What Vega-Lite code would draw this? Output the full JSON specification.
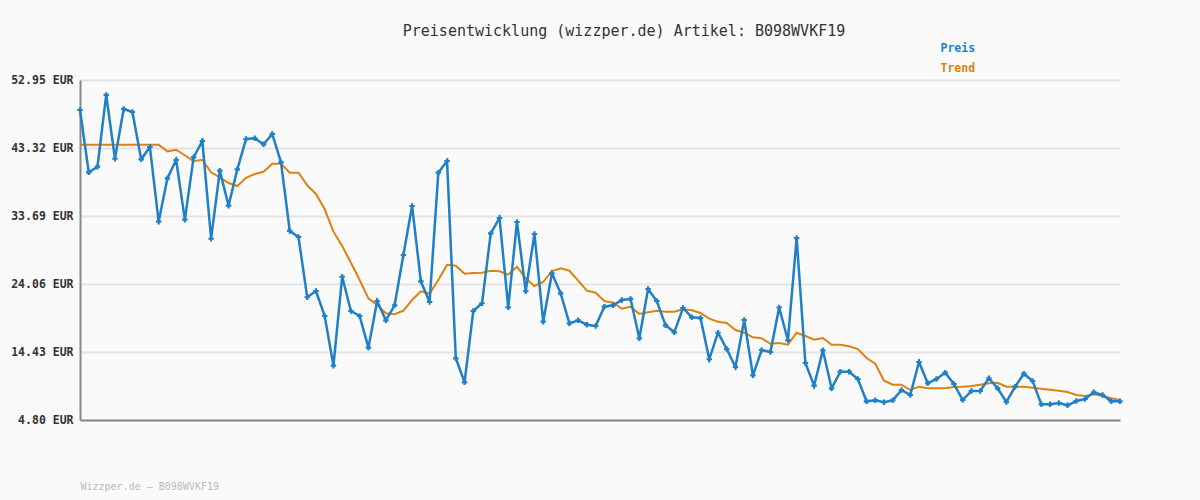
{
  "$schema": "https://vega.github.io/schema/vega-lite/v6.json",
  "width": 1040,
  "height": 340,
  "autosize": {"type": "none"},
  "padding": {"left": 80, "top": 80, "right": 80, "bottom": 80},
  "background": "#fafafa",
  "title": {
    "text": "Preisentwicklung (wizzper.de) Artikel: B098WVKF19",
    "font": "DejaVu Sans Mono",
    "fontSize": 15,
    "fontWeight": "normal",
    "color": "#333333",
    "anchor": "middle",
    "frame": "group",
    "dx": 24,
    "offset": 4
  },
  "data": {
    "values": [
      {"i": 0, "preis": 48.70, "trend": 43.79},
      {"i": 1, "preis": 39.88, "trend": 43.79},
      {"i": 2, "preis": 40.67, "trend": 43.79},
      {"i": 3, "preis": 50.83, "trend": 43.79},
      {"i": 4, "preis": 41.80, "trend": 43.79},
      {"i": 5, "preis": 48.84, "trend": 43.79},
      {"i": 6, "preis": 48.42, "trend": 43.79},
      {"i": 7, "preis": 41.72, "trend": 43.79},
      {"i": 8, "preis": 43.46, "trend": 43.79},
      {"i": 9, "preis": 32.88, "trend": 43.79},
      {"i": 10, "preis": 39.03, "trend": 42.85},
      {"i": 11, "preis": 41.62, "trend": 43.08},
      {"i": 12, "preis": 33.17, "trend": 42.29},
      {"i": 13, "preis": 42.00, "trend": 41.44},
      {"i": 14, "preis": 44.31, "trend": 41.66},
      {"i": 15, "preis": 30.47, "trend": 39.88},
      {"i": 16, "preis": 40.11, "trend": 39.17},
      {"i": 17, "preis": 35.15, "trend": 38.36},
      {"i": 18, "preis": 40.30, "trend": 37.94},
      {"i": 19, "preis": 44.59, "trend": 39.11},
      {"i": 20, "preis": 44.69, "trend": 39.64},
      {"i": 21, "preis": 43.84, "trend": 39.96},
      {"i": 22, "preis": 45.30, "trend": 41.10},
      {"i": 23, "preis": 41.29, "trend": 41.10},
      {"i": 24, "preis": 31.57, "trend": 39.82},
      {"i": 25, "preis": 30.72, "trend": 39.82},
      {"i": 26, "preis": 22.18, "trend": 38.04},
      {"i": 27, "preis": 23.07, "trend": 36.81},
      {"i": 28, "preis": 19.53, "trend": 34.64},
      {"i": 29, "preis": 12.49, "trend": 31.47},
      {"i": 30, "preis": 25.09, "trend": 29.44},
      {"i": 31, "preis": 20.24, "trend": 27.08},
      {"i": 32, "preis": 19.53, "trend": 24.63},
      {"i": 33, "preis": 15.04, "trend": 22.03},
      {"i": 34, "preis": 21.65, "trend": 21.09},
      {"i": 35, "preis": 18.92, "trend": 19.91},
      {"i": 36, "preis": 21.04, "trend": 19.77},
      {"i": 37, "preis": 28.17, "trend": 20.28},
      {"i": 38, "preis": 35.11, "trend": 21.79},
      {"i": 39, "preis": 24.44, "trend": 23.03},
      {"i": 40, "preis": 21.51, "trend": 22.71},
      {"i": 41, "preis": 39.82, "trend": 24.63},
      {"i": 42, "preis": 41.48, "trend": 26.79},
      {"i": 43, "preis": 13.54, "trend": 26.65},
      {"i": 44, "preis": 10.14, "trend": 25.52},
      {"i": 45, "preis": 20.24, "trend": 25.62},
      {"i": 46, "preis": 21.33, "trend": 25.66},
      {"i": 47, "preis": 31.24, "trend": 25.94},
      {"i": 48, "preis": 33.41, "trend": 25.86},
      {"i": 49, "preis": 20.76, "trend": 25.38},
      {"i": 50, "preis": 32.84, "trend": 26.51},
      {"i": 51, "preis": 23.03, "trend": 24.87},
      {"i": 52, "preis": 31.14, "trend": 23.78},
      {"i": 53, "preis": 18.72, "trend": 24.34},
      {"i": 54, "preis": 25.57, "trend": 25.90},
      {"i": 55, "preis": 22.74, "trend": 26.28},
      {"i": 56, "preis": 18.49, "trend": 25.94},
      {"i": 57, "preis": 18.92, "trend": 24.53},
      {"i": 58, "preis": 18.30, "trend": 23.11},
      {"i": 59, "preis": 18.11, "trend": 22.83},
      {"i": 60, "preis": 20.85, "trend": 21.65},
      {"i": 61, "preis": 21.04, "trend": 21.41},
      {"i": 62, "preis": 21.79, "trend": 20.56},
      {"i": 63, "preis": 21.94, "trend": 20.85},
      {"i": 64, "preis": 16.37, "trend": 19.81},
      {"i": 65, "preis": 23.35, "trend": 20.05},
      {"i": 66, "preis": 21.65, "trend": 20.28},
      {"i": 67, "preis": 18.21, "trend": 20.14},
      {"i": 68, "preis": 17.22, "trend": 20.14},
      {"i": 69, "preis": 20.66, "trend": 20.48},
      {"i": 70, "preis": 19.34, "trend": 20.33},
      {"i": 71, "preis": 19.24, "trend": 19.95},
      {"i": 72, "preis": 13.40, "trend": 19.15},
      {"i": 73, "preis": 17.16, "trend": 18.72},
      {"i": 74, "preis": 14.85, "trend": 18.54},
      {"i": 75, "preis": 12.31, "trend": 17.54},
      {"i": 76, "preis": 18.96, "trend": 17.16},
      {"i": 77, "preis": 11.13, "trend": 16.51},
      {"i": 78, "preis": 14.71, "trend": 16.37},
      {"i": 79, "preis": 14.43, "trend": 15.60},
      {"i": 80, "preis": 20.73, "trend": 15.70},
      {"i": 81, "preis": 16.09, "trend": 15.46},
      {"i": 82, "preis": 30.57, "trend": 17.16},
      {"i": 83, "preis": 12.87, "trend": 16.70},
      {"i": 84, "preis": 9.66, "trend": 16.17},
      {"i": 85, "preis": 14.67, "trend": 16.41},
      {"i": 86, "preis": 9.29, "trend": 15.46},
      {"i": 87, "preis": 11.64, "trend": 15.46},
      {"i": 88, "preis": 11.64, "trend": 15.24},
      {"i": 89, "preis": 10.61, "trend": 14.85},
      {"i": 90, "preis": 7.45, "trend": 13.58},
      {"i": 91, "preis": 7.59, "trend": 12.77},
      {"i": 92, "preis": 7.31, "trend": 10.37},
      {"i": 93, "preis": 7.59, "trend": 9.80},
      {"i": 94, "preis": 9.05, "trend": 9.80},
      {"i": 95, "preis": 8.34, "trend": 9.05},
      {"i": 96, "preis": 13.01, "trend": 9.52},
      {"i": 97, "preis": 10.00, "trend": 9.29},
      {"i": 98, "preis": 10.61, "trend": 9.29},
      {"i": 99, "preis": 11.50, "trend": 9.29},
      {"i": 100, "preis": 9.90, "trend": 9.47},
      {"i": 101, "preis": 7.63, "trend": 9.52},
      {"i": 102, "preis": 8.91, "trend": 9.61},
      {"i": 103, "preis": 8.91, "trend": 9.80},
      {"i": 104, "preis": 10.71, "trend": 10.00},
      {"i": 105, "preis": 9.29, "trend": 10.08},
      {"i": 106, "preis": 7.35, "trend": 9.52},
      {"i": 107, "preis": 9.52, "trend": 9.52},
      {"i": 108, "preis": 11.36, "trend": 9.52},
      {"i": 109, "preis": 10.32, "trend": 9.37},
      {"i": 110, "preis": 7.02, "trend": 9.23},
      {"i": 111, "preis": 7.02, "trend": 9.09},
      {"i": 112, "preis": 7.21, "trend": 8.95},
      {"i": 113, "preis": 6.88, "trend": 8.77},
      {"i": 114, "preis": 7.49, "trend": 8.34},
      {"i": 115, "preis": 7.77, "trend": 8.20},
      {"i": 116, "preis": 8.72, "trend": 8.44},
      {"i": 117, "preis": 8.34, "trend": 8.20},
      {"i": 118, "preis": 7.45, "trend": 7.87},
      {"i": 119, "preis": 7.45, "trend": 7.63}
    ]
  },
  "encoding": {
    "x": {
      "field": "i",
      "type": "quantitative",
      "scale": {"domain": [0, 119], "nice": false, "zero": false},
      "axis": {
        "title": "Wizzper.de – B098WVKF19",
        "titleFont": "DejaVu Sans Mono",
        "titleFontSize": 10,
        "titleFontWeight": "normal",
        "titleColor": "#bbbbbb",
        "titleAnchor": "start",
        "titleAlign": "left",
        "titlePadding": 61,
        "labels": false,
        "ticks": false,
        "grid": false,
        "domainColor": "#888888",
        "domainWidth": 2
      }
    }
  },
  "layer": [
    {
      "mark": {"type": "line", "strokeWidth": 2, "clip": false},
      "encoding": {
        "y": {
          "field": "trend",
          "type": "quantitative",
          "scale": {"domain": [4.8, 52.95], "nice": false, "zero": false},
          "axis": {
            "title": null,
            "values": [4.8, 14.43, 24.06, 33.69, 43.32, 52.95],
            "labelExpr": "format(datum.value, '.2f') + ' EUR'",
            "labelFont": "DejaVu Sans Mono",
            "labelFontSize": 11.5,
            "labelFontWeight": "bold",
            "labelColor": "#333333",
            "labelPadding": 7,
            "ticks": false,
            "grid": true,
            "gridColor": "#e4e4e4",
            "gridWidth": 2,
            "domainColor": "#888888",
            "domainWidth": 2
          }
        },
        "color": {
          "datum": "Trend",
          "type": "nominal",
          "scale": {"domain": ["Preis", "Trend"], "range": ["#1f80c8", "#e0800e"]},
          "legend": {
            "title": null,
            "orient": "none",
            "legendX": 849,
            "legendY": -37,
            "symbolOpacity": 0,
            "symbolSize": 0,
            "symbolStrokeWidth": 0,
            "labelOffset": 0,
            "labelFont": "DejaVu Sans Mono",
            "labelFontSize": 11.5,
            "labelFontWeight": "bold",
            "rowPadding": 7,
            "padding": 0,
            "encode": {
              "labels": {"update": {"fill": {"scale": "color", "field": "value"}}}
            }
          }
        }
      }
    },
    {
      "mark": {
        "type": "line",
        "strokeWidth": 2.5,
        "clip": false,
        "point": {"shape": "cross", "filled": true, "size": 30}
      },
      "encoding": {
        "y": {"field": "preis", "type": "quantitative"},
        "color": {"datum": "Preis", "type": "nominal"}
      }
    }
  ],
  "resolve": {"scale": {"color": "shared"}},
  "config": {
    "view": {"stroke": null}
  }
}
